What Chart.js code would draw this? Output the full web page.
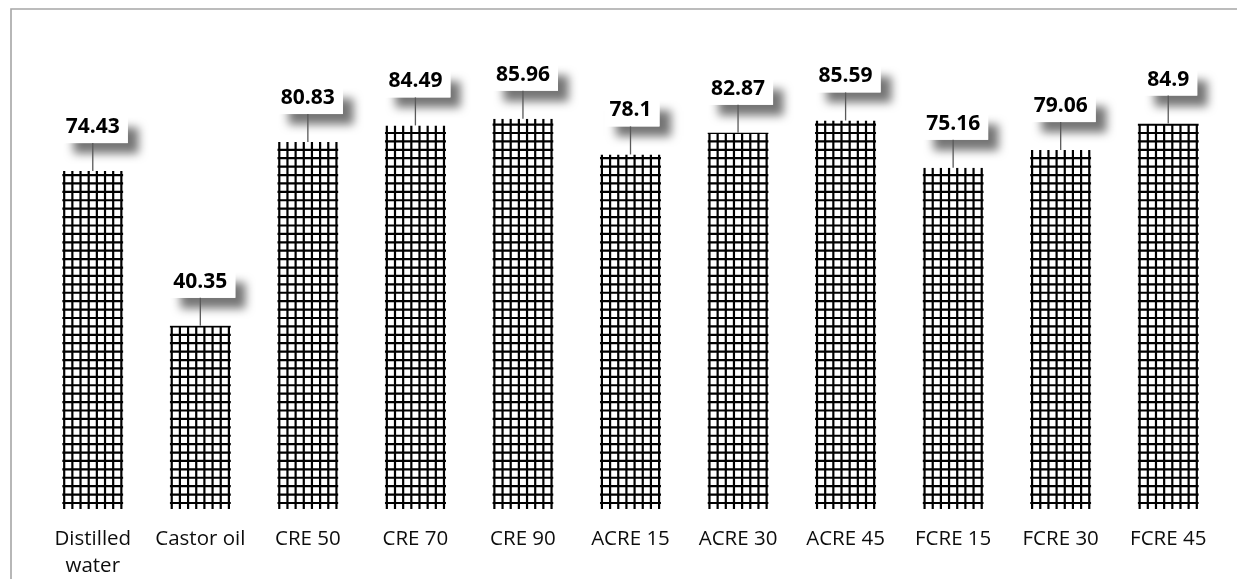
<!DOCTYPE html>
<html>
<head>
<meta charset="utf-8">
<script src="https://cdn.jsdelivr.net/npm/chart.js@4/dist/chart.umd.min.js"></script>
<style>
  html, body { margin: 0; padding: 0; background: #fff; }
  #wrap { width: 1237px; height: 579px; position: relative; }
</style>
</head>
<body>
<div id="wrap"><canvas id="myChart"></canvas></div>
<script>
const categories = [['Distilled', 'water'], 'Castor oil', 'CRE 50', 'CRE 70', 'CRE 90',
  'ACRE 15', 'ACRE 30', 'ACRE 45', 'FCRE 15', 'FCRE 30', 'FCRE 45'];
const values = [74.43, 40.35, 80.83, 84.49, 85.96, 78.1, 82.87, 85.59, 75.16, 79.06, 84.9];
const yRange = [0, 100];

const ctx = document.getElementById('myChart');

// grey frame line along the top and left edge
const framePlugin = {
  id: 'frame',
  beforeDraw(chart) {
    const c = chart.ctx;
    c.save();
    c.strokeStyle = '#a6a6a6';
    c.lineWidth = 1.6;
    c.beginPath();
    c.moveTo(11, chart.height + 2);
    c.lineTo(11, 9);
    c.lineTo(chart.width + 2, 9);
    c.stroke();
    c.restore();
  }
};

// black cross-hatch inside every bar
const gridFillPlugin = {
  id: 'gridFill',
  afterDatasetsDraw(chart) {
    const c = chart.ctx;
    chart.getDatasetMeta(0).data.forEach((bar) => {
      const w = bar.width;
      const left = bar.x - w / 2;
      const top = bar.y;
      const base = bar.base;
      const step = (w - 2) / 7;
      c.save();
      c.beginPath();
      c.rect(left - 1, top, w + 2, base - top);
      c.clip();
      c.strokeStyle = '#000';
      c.lineWidth = 2.2;
      c.beginPath();
      for (let i = 0; i <= 7; i++) {
        const x = left + 1 + i * step;
        c.moveTo(x, top);
        c.lineTo(x, base);
      }
      for (let y = base - 6; y > top; y -= step * 1.03) {
        c.moveTo(left - 1, y);
        c.lineTo(left + w + 1, y);
      }
      c.stroke();
      c.restore();
    });
  }
};

// value callouts: white box with soft shadow and a leader line down to the bar
const calloutPlugin = {
  id: 'callouts',
  afterDatasetsDraw(chart) {
    const c = chart.ctx;
    const ds = chart.data.datasets[0];
    chart.getDatasetMeta(0).data.forEach((bar, i) => {
      const txt = String(ds.data[i]);
      c.save();
      c.font = 'bold 21px "Open Sans"';
      const tw = c.measureText(txt).width;
      const cx = bar.x;
      const mid = bar.y - 44;
      const boxL = cx - tw / 2 - 4;
      const boxR = cx + tw / 2 + 8;
      const boxT = bar.y - 55;
      const boxB = bar.y - 28;

      c.shadowColor = 'rgba(0,0,0,0.55)';
      c.shadowBlur = 9;
      c.shadowOffsetX = 11;
      c.shadowOffsetY = 11;
      c.fillStyle = '#fff';
      c.fillRect(boxL, boxT, boxR - boxL, boxB - boxT);
      c.shadowColor = 'transparent';
      c.fillRect(boxL, boxT, boxR - boxL, boxB - boxT);

      c.strokeStyle = '#595959';
      c.lineWidth = 1.3;
      c.beginPath();
      c.moveTo(cx, boxB);
      c.lineTo(cx, bar.y);
      c.stroke();

      c.fillStyle = '#000';
      c.textAlign = 'center';
      c.textBaseline = 'middle';
      c.fillText(txt, cx, mid);
      c.restore();
    });
  }
};

new Chart(ctx, {
  type: 'bar',
  data: {
    labels: categories,
    datasets: [{
      data: values,
      backgroundColor: '#fff',
      borderWidth: 0,
      barPercentage: 0.55,
      categoryPercentage: 1
    }]
  },
  options: {
    responsive: true,
    maintainAspectRatio: false,
    animation: false,
    layout: { padding: { left: 39, right: 15, top: 55, bottom: 0 } },
    plugins: {
      legend: { display: false },
      tooltip: { enabled: false }
    },
    scales: {
      x: {
        grid: { display: false, drawTicks: false },
        border: { display: false },
        ticks: {
          color: '#0d0d0d',
          font: { family: '"Open Sans"', size: 20.5, lineHeight: 1.3 },
          padding: 17,
          maxRotation: 0,
          autoSkip: false
        },
        afterFit(scale) { scale.height = 70; }
      },
      y: {
        display: false,
        min: yRange[0],
        max: yRange[1]
      }
    }
  },
  plugins: [framePlugin, gridFillPlugin, calloutPlugin]
});
</script>
</body>
</html>
